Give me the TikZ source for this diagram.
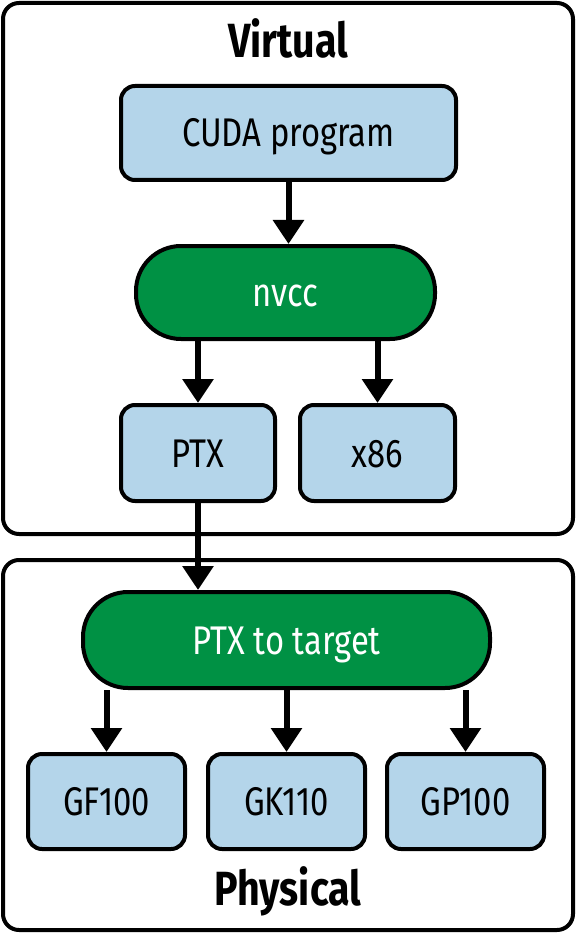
\documentclass[tikz,border=0pt]{standalone}
\usepackage{fontspec}
\setmainfont{Fira Sans}[FakeStretch=0.82]
\usetikzlibrary{arrows.meta}
\definecolor{boxblue}{RGB}{180,213,234}
\definecolor{nvgreen}{RGB}{0,145,68}
\begin{document}
\begin{tikzpicture}[x=1pt,y=-1pt,
  frame/.style={draw=black, line width=4pt, rounded corners=16pt, inner sep=0pt},
  blockbox/.style={draw=black, line width=4pt, fill=boxblue, rounded corners=14pt, inner sep=0pt,
    text height=28pt, text depth=0pt, font=\fontsize{40}{41}\selectfont},
  tool/.style={draw=black, line width=4pt, fill=nvgreen, rounded corners=45pt, inner sep=0pt,
    minimum height=93pt, text=white, text height=28pt, text depth=0pt, font=\fontsize{40}{41}\selectfont},
  flow/.style={line width=6pt, -{Triangle[width=30pt,length=24pt]}},
  title/.style={inner sep=0pt, text height=33pt, text depth=0pt, font=\fontsize{48}{48}\selectfont\bfseries}]
\useasboundingbox (0,0) rectangle (576,933);
% frames
\node[frame, minimum width=570pt, minimum height=531pt] (virt) at (288,268.5) {};
\node[frame, minimum width=570pt, minimum height=370pt] (phys) at (288,745) {};
\node[title] (vtitle) at (288,41.5) {Virtual};
\node[title] (ptitle) at (288,888.5) {Physical};
% virtual part
\node[blockbox, minimum width=335pt, minimum height=94pt] (cuda) at (288.5,133) {CUDA program};
\node[tool, minimum width=299pt] (nvcc) at (285.5,292.5) {nvcc};
\node[blockbox, minimum width=154pt, minimum height=96pt] (ptx) at (198,453) {PTX};
\node[blockbox, minimum width=155pt, minimum height=96pt] (x86) at (377.5,453) {x86};
% physical part
\node[tool, minimum width=407pt, minimum height=96pt] (tgt) at (286.5,640) {PTX to target};
\node[blockbox, minimum width=157pt, minimum height=95pt] (gf) at (106.5,801.5) {GF100};
\node[blockbox, minimum width=157pt, minimum height=95pt] (gk) at (286.5,801.5) {GK110};
\node[blockbox, minimum width=157pt, minimum height=95pt] (gp) at (465.5,801.5) {GP100};
% connectors
\draw[flow] (cuda.south) -- (cuda.south |- nvcc.north);
\draw[flow] (ptx.north |- nvcc.south) -- (ptx.north);
\draw[flow] (x86.north |- nvcc.south) -- (x86.north);
\draw[flow] (ptx.south) -- (ptx.south |- tgt.north);
\draw[flow] (gf.north |- tgt.south) -- (gf.north);
\draw[flow] (gk.north |- tgt.south) -- (gk.north);
\draw[flow] (gp.north |- tgt.south) -- (gp.north);
\end{tikzpicture}
\end{document}
